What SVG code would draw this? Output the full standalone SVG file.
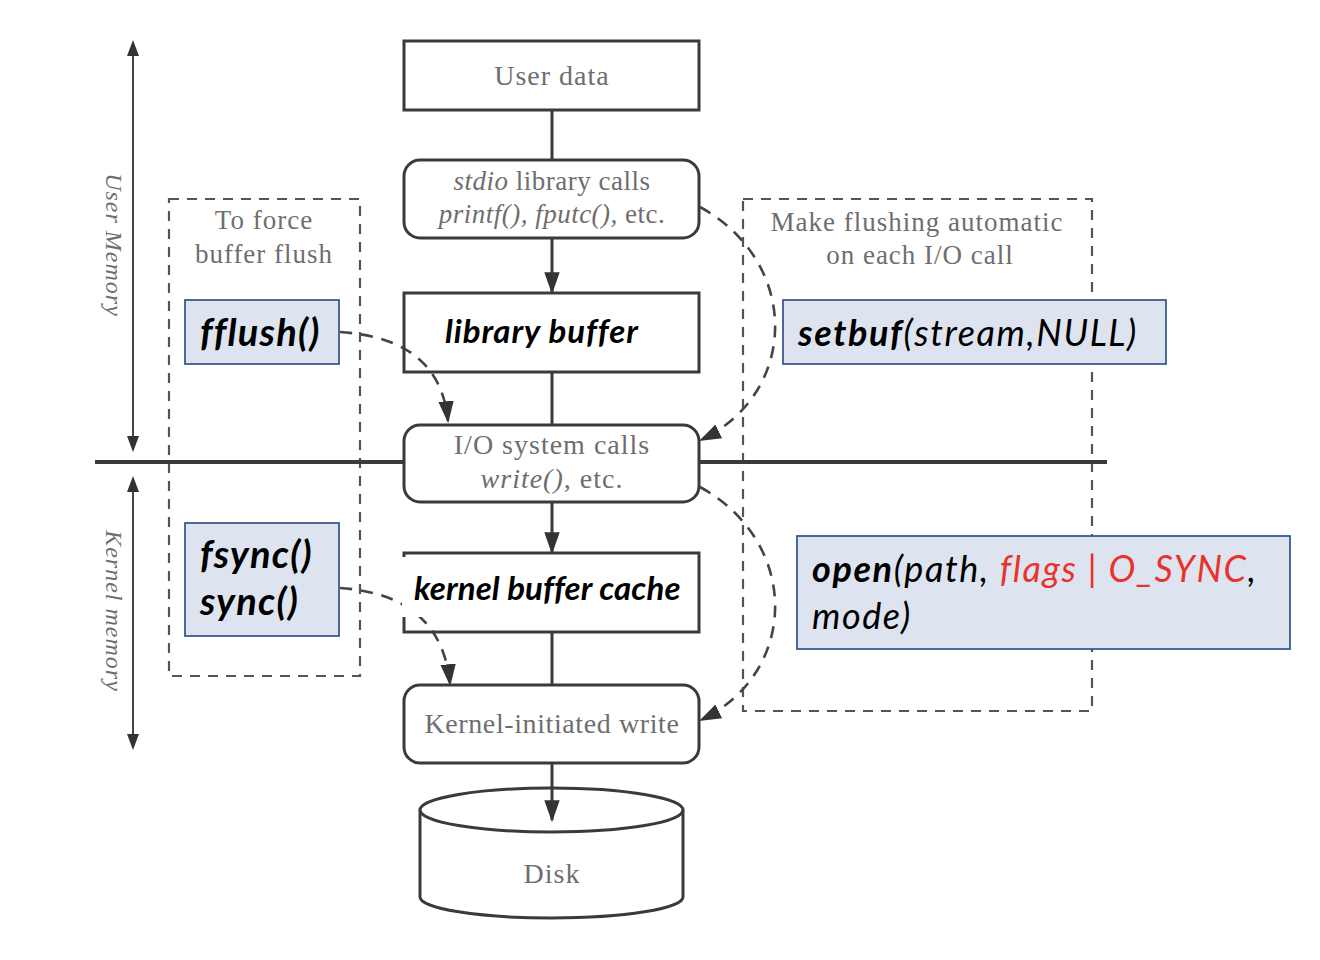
<svg xmlns="http://www.w3.org/2000/svg" width="1320" height="960" viewBox="0 0 1320 960">
<style>
.box{stroke:#3a3a3a;stroke-width:3;}
.serif{font-family:"Liberation Serif","DejaVu Serif",serif;fill:#6e6e6e;letter-spacing:1px;}
.big{font-family:Lato,"Liberation Sans",sans-serif;font-weight:bold;font-style:italic;fill:#000;}
.call{font-family:Lato,"Liberation Sans",sans-serif;font-style:italic;fill:#000;}
.blue{fill:#dde4f0;stroke:#3b5a92;stroke-width:1.8;}
.dash{fill:none;stroke:#555;stroke-width:2.2;stroke-dasharray:10 8;}
.dashc{fill:none;stroke:#444;stroke-width:2.6;stroke-dasharray:12 9;}
.solid{stroke:#3a3a3a;stroke-width:3;fill:none;}
</style>
<defs>
<marker id="ahb" viewBox="0 0 10 10" refX="9" refY="5" markerWidth="22" markerHeight="22" markerUnits="userSpaceOnUse" orient="auto">
<path d="M0,1.5 L10,5 L0,8.5 z" fill="#333"/>
</marker>
</defs>
<rect width="1320" height="960" fill="#fff"/>

<!-- region dashed boxes -->
<g id="force-region">
<rect x="169" y="199" width="191" height="477" class="dash"/>
<text class="serif" font-size="27" text-anchor="middle"><tspan x="264" y="229">To force</tspan><tspan x="264" y="263">buffer flush</tspan></text>
</g>
<g id="auto-region">
<rect x="743" y="199" width="349" height="512" class="dash"/>
<text class="serif" font-size="27" text-anchor="middle"><tspan x="917" y="231">Make flushing automatic</tspan><tspan x="920" y="264">on each I/O call</tspan></text>
</g>

<!-- memory axes -->
<g id="axes">
<line x1="133" y1="44" x2="133" y2="450" stroke="#444" stroke-width="2"/>
<path d="M133,40 l-6,16 h12 z" fill="#333"/>
<path d="M133,452 l-6,-16 h12 z" fill="#333"/>
<line x1="133" y1="480" x2="133" y2="746" stroke="#444" stroke-width="2"/>
<path d="M133,476 l-6,16 h12 z" fill="#333"/>
<path d="M133,750 l-6,-16 h12 z" fill="#333"/>
<text class="serif" font-size="24" font-style="italic" text-anchor="middle" transform="translate(106,245) rotate(90)">User Memory</text>
<text class="serif" font-size="24" font-style="italic" text-anchor="middle" transform="translate(106,611) rotate(90)">Kernel memory</text>
<line x1="95" y1="462" x2="1107" y2="462" stroke="#3a3a3a" stroke-width="4"/>
</g>

<g id="disk">
<path d="M420,810 L420,897 A131.5,21 0 0 0 683,897 L683,810" fill="#fff" class="box"/>
<ellipse cx="551.5" cy="810" rx="131.5" ry="22" fill="none" class="box"/>
<text class="serif" font-size="28" text-anchor="middle" x="552" y="883">Disk</text>
</g>

<!-- connectors -->
<g id="connectors">
<line x1="552" y1="110" x2="552" y2="160" class="solid"/>
<line x1="552" y1="238" x2="552" y2="292" class="solid" marker-end="url(#ahb)"/>
<line x1="552" y1="372" x2="552" y2="425" class="solid"/>
<line x1="552" y1="502" x2="552" y2="552" class="solid" marker-end="url(#ahb)"/>
<line x1="552" y1="632" x2="552" y2="685" class="solid"/>
<line x1="552" y1="763" x2="552" y2="820" class="solid" marker-end="url(#ahb)"/>
<path d="M700,207 C800,262 800,392 701,440" class="dashc" marker-end="url(#ahb)"/>
<path d="M700,487 C800,542 800,672 701,720" class="dashc" marker-end="url(#ahb)"/>
<path d="M340,332 C400,336 442,360 448,421" class="dashc" marker-end="url(#ahb)"/>
<path d="M340,588 C402,592 444,620 450,684" class="dashc" marker-end="url(#ahb)"/>
</g>

<!-- nodes -->
<g id="user-data">
<rect x="404" y="41" width="295" height="69" fill="#fff" class="box"/>
<text class="serif" font-size="28" text-anchor="middle" x="552" y="85">User data</text>
</g>
<g id="stdio-calls">
<rect x="404" y="160" width="295" height="78" rx="16" fill="#fff" class="box"/>
<text class="serif" font-size="27" text-anchor="middle" x="552" y="190" style="letter-spacing:0.5px"><tspan font-style="italic">stdio</tspan> library calls</text>
<text class="serif" font-size="27" text-anchor="middle" x="552" y="223" font-style="italic" style="letter-spacing:0.5px">printf(), fputc(), <tspan font-style="normal">etc.</tspan></text>
</g>
<g id="library-buffer">
<rect x="404" y="293" width="295" height="79" fill="none" class="box"/>
<text class="big" font-size="33" x="445" y="343" style="letter-spacing:0.9px">library buffer</text>
</g>
<g id="io-calls">
<rect x="404" y="425" width="295" height="77" rx="16" fill="#fff" class="box"/>
<text class="serif" font-size="28" text-anchor="middle" x="552" y="454">I/O system calls</text>
<text class="serif" font-size="28" text-anchor="middle" x="552" y="488"><tspan font-style="italic">write()</tspan>, etc.</text>
</g>
<g id="kernel-buffer-cache">
<rect x="404" y="553" width="295" height="79" fill="none" class="box"/>
<rect x="402" y="557" width="288" height="60" fill="#fff"/>
<text class="big" font-size="33" x="414" y="600" style="letter-spacing:0.1px">kernel buffer cache</text>
</g>
<g id="kernel-write">
<rect x="404" y="685" width="295" height="78" rx="16" fill="#fff" class="box"/>
<text class="serif" font-size="28" text-anchor="middle" x="552" y="733" style="letter-spacing:0.6px">Kernel-initiated write</text>
</g>
<g id="fflush">
<rect x="185" y="300" width="154" height="64" class="blue"/>
<text class="big" font-size="38" x="200" y="346" style="letter-spacing:1.2px">fflush()</text>
</g>
<g id="fsync">
<rect x="185" y="523" width="154" height="113" class="blue"/>
<text class="big" font-size="38" x="200" y="568" style="letter-spacing:1.2px">fsync()</text>
<text class="big" font-size="38" x="200" y="615" style="letter-spacing:1.2px">sync()</text>
</g>
<g id="setbuf">
<rect x="783" y="300" width="383" height="64" class="blue"/>
<text class="call" font-size="36" x="798" y="346" style="letter-spacing:1.6px"><tspan font-weight="bold">setbuf</tspan>(stream,NULL)</text>
</g>
<g id="open">
<rect x="797" y="536" width="493" height="113" class="blue"/>
<text class="call" font-size="36" x="812" y="582" style="letter-spacing:1.6px"><tspan font-weight="bold">open</tspan>(path, <tspan fill="#e8322a">flags | O_SYNC</tspan>,</text>
<text class="call" font-size="36" x="812" y="629" style="letter-spacing:1.6px">mode)</text>
</g>
</svg>
